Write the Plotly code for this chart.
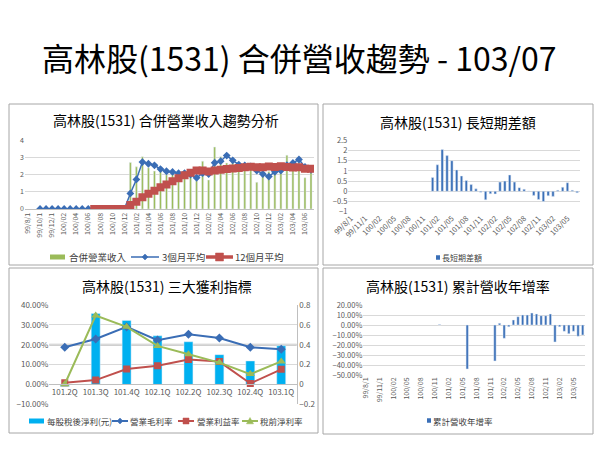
import plotly.graph_objects as go

W, H = 600, 450
def fx(px): return px / W
def fy(py): return 1 - py / H

FONT = "Noto Sans CJK TC, Noto Sans CJK SC, sans-serif"
TICK = "#595959"
GRID = "#D9D9D9"

# ---------------- data ----------------
months = ['99/08', '99/09', '99/10', '99/11', '99/12',
          '100/01', '100/02', '100/03', '100/04', '100/05', '100/06',
          '100/07', '100/08', '100/09', '100/10', '100/11', '100/12',
          '101/01', '101/02', '101/03', '101/04', '101/05', '101/06',
          '101/07', '101/08', '101/09', '101/10', '101/11', '101/12',
          '102/01', '102/02', '102/03', '102/04', '102/05', '102/06',
          '102/07', '102/08', '102/09', '102/10', '102/11', '102/12',
          '103/01', '103/02', '103/03', '103/04', '103/05', '103/06', '103/07']

p1_tickvals = months[0::2]
p1_ticktext = ['99/8/1', '99/10/1', '99/12/1', '100/02', '100/04', '100/06',
               '100/08', '100/10', '100/12', '101/02', '101/04', '101/06',
               '101/08', '101/10', '101/12', '102/02', '102/04', '102/06',
               '102/08', '102/10', '102/12', '103/02', '103/04', '103/06']
p2_tickvals = months[0::3]
p2_ticktext = ['99/8/1', '99/11/1', '100/02', '100/05', '100/08', '100/11',
               '101/02', '101/05', '101/08', '101/11', '102/02', '102/05',
               '102/08', '102/11', '103/02', '103/05']

# panel 1: monthly revenue (101/01 .. 103/07)
rev_months = months[17:]
revenue = [2.73, 2.47, 3.06, 2.41, 2.22, 2.40, 2.00, 2.10, 2.20, 2.00, 1.85, 1.65,
           2.80, 1.70, 3.63, 3.06, 2.70, 2.80, 2.30, 2.55, 2.65, 1.56, 1.94, 2.20,
           2.40, 2.15, 3.15, 2.80, 2.75, 1.83, 2.30]
# 3-month average (99/10 .. 103/07)
avg3_months = months[2:]
avg3 = [0, 0, 0, 0, 0, 0, 0, 0, 0, 0, 0, 0, 0, 0, 0,
        0.91, 1.73, 2.75, 2.65, 2.56, 2.34, 2.21, 2.17, 2.10, 2.10, 2.02, 1.83,
        2.10, 2.05, 2.71, 2.80, 3.13, 2.85, 2.60, 2.55, 2.50, 2.25, 2.05, 1.90,
        2.18, 2.25, 2.57, 2.70, 2.90, 2.46, 2.29]
# 12-month average (100/07 .. 103/07)
avg12_months = months[11:]
avg12 = [0, 0, 0, 0, 0, 0,
         0.23, 0.43, 0.69, 0.89, 1.07, 1.27, 1.44, 1.62, 1.80, 1.97, 2.12, 2.26,
         2.26, 2.20, 2.25, 2.30, 2.34, 2.37, 2.40, 2.44, 2.47, 2.44, 2.45, 2.49,
         2.46, 2.50, 2.46, 2.43, 2.44, 2.36, 2.36]

# panel 2: long/short difference (101/01 .. 103/07)
diff_months = months[17:]
diff = [0.68, 1.30, 2.05, 1.75, 1.50, 1.05, 0.75, 0.53, 0.33, 0.12, -0.05, -0.42,
        -0.12, -0.13, 0.45, 0.50, 0.80, 0.45, 0.18, 0.10, 0.02, -0.20, -0.40, -0.50,
        -0.22, -0.25, 0.05, 0.20, 0.42, 0.05, -0.07]

# panel 3: profitability
quarters = ['101.2Q', '101.3Q', '101.4Q', '102.1Q', '102.2Q', '102.3Q', '102.4Q', '103.1Q']
eps = [-0.02, 0.715, 0.645, 0.49, 0.43, 0.30, 0.237, 0.39]
gross = [0.187, 0.229, 0.290, 0.223, 0.253, 0.234, 0.187, 0.177]
oper = [0.008, 0.022, 0.078, 0.094, 0.125, 0.115, 0.005, 0.076]
pretax = [0.001, 0.347, 0.290, 0.194, 0.152, 0.110, 0.052, 0.116]

# panel 4: cumulative revenue YoY growth
growth_months = ['100/12', '101/06', '101/12',
                 '102/01', '102/02', '102/03', '102/04', '102/05', '102/06',
                 '102/07', '102/08', '102/09', '102/10', '102/11', '102/12',
                 '103/01', '103/02', '103/03', '103/04', '103/05', '103/06', '103/07']
growth = [0.004, -0.44, -0.36,
          0.017, -0.133, -0.017, 0.05, 0.083, 0.10,
          0.10, 0.12, 0.11, 0.093, 0.093, 0.11,
          -0.17, -0.017, -0.063, -0.087, -0.063, -0.113, -0.10]

# ---------------- figure ----------------
BLUE = "#3A6DB5"
RED = "#C0504D"
GREEN = "#9BBB59"
BARBLUE = "#3A6FB7"
CYAN = "#00B0F0"

fig = go.Figure()

# panel 1
fig.add_trace(go.Bar(x=rev_months, y=revenue, name='合併營業收入', marker_color=GREEN,
                     width=0.33, xaxis='x', yaxis='y'))
fig.add_trace(go.Scatter(x=avg3_months, y=avg3, name='3個月平均', mode='lines+markers',
                         line=dict(color=BLUE, width=1.5),
                         marker=dict(symbol='diamond', size=6, color=BLUE),
                         xaxis='x', yaxis='y'))
fig.add_trace(go.Scatter(x=avg12_months, y=avg12, name='12個月平均', mode='lines+markers',
                         line=dict(color=RED, width=3.5),
                         marker=dict(symbol='square', size=8, color=RED),
                         xaxis='x', yaxis='y'))

# panel 2
fig.add_trace(go.Bar(x=diff_months, y=diff, name='長短期差額', marker_color=BARBLUE,
                     width=0.5, xaxis='x2', yaxis='y2'))

# panel 3
fig.add_trace(go.Bar(x=quarters, y=eps, name='每股稅後淨利(元)', marker_color=CYAN,
                     width=0.29, xaxis='x3', yaxis='y3'))
fig.add_trace(go.Scatter(x=quarters, y=gross, name='營業毛利率', mode='lines+markers',
                         line=dict(color=BLUE, width=2),
                         marker=dict(symbol='diamond', size=7, color=BLUE),
                         xaxis='x3', yaxis='y4'))
fig.add_trace(go.Scatter(x=quarters, y=oper, name='營業利益率', mode='lines+markers',
                         line=dict(color=RED, width=2),
                         marker=dict(symbol='square', size=7, color=RED),
                         xaxis='x3', yaxis='y4'))
fig.add_trace(go.Scatter(x=quarters, y=pretax, name='稅前淨利率', mode='lines+markers',
                         line=dict(color=GREEN, width=2),
                         marker=dict(symbol='triangle-up', size=8, color=GREEN),
                         xaxis='x3', yaxis='y4'))

# panel 4
fig.add_trace(go.Bar(x=growth_months, y=growth, name='累計營收年增率', marker_color=BARBLUE,
                     width=0.5, xaxis='x4', yaxis='y5'))

tickfont = dict(family=FONT, size=7, color=TICK)

def cat_axis(**kw):
    d = dict(type='category', categoryorder='array', showgrid=False, zeroline=False,
             ticks='', tickfont=tickfont, fixedrange=True)
    d.update(kw)
    return d

def val_axis(**kw):
    d = dict(showgrid=True, gridcolor=GRID, gridwidth=1, zeroline=False, ticks='',
             tickfont=tickfont, showline=False, fixedrange=True)
    d.update(kw)
    return d

fig.update_layout(
    width=W, height=H, autosize=False,
    margin=dict(l=0, r=0, t=0, b=0, pad=0, autoexpand=False),
    paper_bgcolor='white', plot_bgcolor='rgba(0,0,0,0)',
    font=dict(family=FONT),
    hovermode=False,
    showlegend=False,
    barmode='group',
    xaxis=cat_axis(domain=[fx(25), fx(314)], anchor='y', categoryarray=months,
                   range=[-0.5, 47.5], tickvals=p1_tickvals, ticktext=p1_ticktext,
                   tickangle=-90, showline=True, linecolor='#BFBFBF'),
    yaxis=val_axis(domain=[fy(209), fy(140.7)], anchor='x', range=[0, 4], dtick=1),
    xaxis2=cat_axis(domain=[fx(348.3), fx(579.5)], anchor='y2', categoryarray=months,
                    range=[-0.5, 47.5], tickvals=p2_tickvals, ticktext=p2_ticktext,
                    tickangle=-45, tickfont=dict(family=FONT, size=7.5, color=TICK)),
    yaxis2=val_axis(domain=[fy(211.7), fy(140.3)], anchor='x2', range=[-1, 2.5], dtick=0.5,
                    tickfont=dict(family=FONT, size=7.5, color=TICK)),
    xaxis3=cat_axis(domain=[fx(49.3), fx(296.7)], anchor='free', position=fy(384.3),
                    categoryarray=quarters, range=[-0.5, 7.5], showline=True,
                    linecolor='#BFBFBF', tickfont=dict(family=FONT, size=8, color=TICK)),
    yaxis3=val_axis(domain=[fy(404.3), fy(305)], anchor='x3', side='right',
                    range=[-0.2, 0.8], dtick=0.2, showline=True, linecolor='#BFBFBF',
                    tickfont=dict(family=FONT, size=8, color=TICK)),
    yaxis4=dict(overlaying='y3', anchor='x3', side='left', range=[-0.1, 0.4], dtick=0.1,
                tickformat='.2%', showgrid=False, zeroline=False, ticks='', fixedrange=True,
                tickfont=dict(family=FONT, size=8, color=TICK)),
    xaxis4=cat_axis(domain=[fx(363.3), fx(585)], anchor='y5', categoryarray=months,
                    range=[-0.5, 47.5], tickvals=p2_tickvals, ticktext=p2_ticktext,
                    tickangle=-90),
    yaxis5=val_axis(domain=[fy(375), fy(305)], anchor='x4', range=[-0.5, 0.2], dtick=0.1,
                    tickformat='.2%', tickfont=dict(family=FONT, size=7.5, color=TICK)),
)

# panel frames
border = dict(color='#A6A6A6', width=1)
for (x0, y0, x1, y1) in [(9, 104, 318, 265), (323, 104, 593, 265),
                         (9, 268, 318, 433), (323, 268, 593, 434)]:
    fig.add_shape(type='rect', xref='paper', yref='paper', x0=fx(x0), x1=fx(x1),
                  y0=fy(y1), y1=fy(y0), line=border, fillcolor='rgba(0,0,0,0)', layer='below')

# darker gridline at 20% in panel 3
fig.add_shape(type='line', xref='x3 domain', yref='y4', x0=0, x1=1, y0=0.2, y1=0.2,
              line=dict(color='#BFBFBF', width=2), layer='below')

# ---------- compact legends (symbols + text), positioned like the reference ----------
def swatch(x0, x1, y, h, color):
    fig.add_shape(type='rect', xref='paper', yref='paper', x0=fx(x0), x1=fx(x1),
                  y0=fy(y + h / 2), y1=fy(y - h / 2), line=dict(width=0), fillcolor=color)

def line_sym(x0, x1, y, color, width, marker, msize):
    fig.add_shape(type='line', xref='paper', yref='paper', x0=fx(x0), x1=fx(x1),
                  y0=fy(y), y1=fy(y), line=dict(color=color, width=width))
    cx, r = (x0 + x1) / 2, msize / 2
    if marker == 'diamond':
        pts = [(cx, y - r), (cx + r, y), (cx, y + r), (cx - r, y)]
    elif marker == 'square':
        pts = [(cx - r, y - r), (cx + r, y - r), (cx + r, y + r), (cx - r, y + r)]
    else:
        pts = [(cx, y - r), (cx + r, y + r * 0.8), (cx - r, y + r * 0.8)]
    path = 'M ' + ' L '.join(f'{fx(px):.5f},{fy(py):.5f}' for px, py in pts) + ' Z'
    fig.add_shape(type='path', xref='paper', yref='paper', path=path,
                  fillcolor=color, line=dict(color=color, width=0.5))

def label(x, y, txt, size):
    fig.add_annotation(text=txt, xref='paper', yref='paper', x=fx(x), y=fy(y),
                       xanchor='left', yanchor='middle', showarrow=False,
                       font=dict(family=FONT, size=size, color='#404040'))

# panel 1 legend
swatch(50, 65, 257, 5, GREEN)
label(67, 257, '合併營業收入', 9.5)
line_sym(131, 159, 257, BLUE, 1.5, 'diamond', 6)
label(160, 257, '3個月平均', 9.5)
line_sym(206, 233, 257, RED, 3.5, 'square', 8)
label(233, 257, '12個月平均', 9.5)
# panel 2 legend
swatch(436, 440, 257.5, 4.5, BARBLUE)
label(440, 257.5, '長短期差額', 8)
# panel 3 legend
swatch(29, 44, 421, 5, CYAN)
label(45, 421, '每股稅後淨利(元)', 8.5)
line_sym(112, 128, 421, BLUE, 2, 'diamond', 6)
label(128, 421, '營業毛利率', 8.5)
line_sym(178, 194, 421, RED, 2, 'square', 6)
label(195, 421, '營業利益率', 8.5)
line_sym(242, 258, 421, GREEN, 2, 'triangle', 7)
label(258, 421, '稅前淨利率', 8.5)
# panel 4 legend
swatch(427, 431, 420.5, 4.5, BARBLUE)
label(431, 420.5, '累計營收年增率', 8.5)

# titles
fig.add_annotation(text='高林股(1531) 合併營收趨勢 - 103/07', xref='paper', yref='paper',
                   x=fx(299), y=fy(57), xanchor='center', yanchor='middle', showarrow=False,
                   font=dict(family=FONT, size=32, color='#000000'))
for txt, x, y in [('高林股(1531) 合併營業收入趨勢分析', 166, 120),
                  ('高林股(1531) 長短期差額', 458, 122),
                  ('高林股(1531) 三大獲利指標', 167, 286),
                  ('高林股(1531) 累計營收年增率', 458, 286)]:
    fig.add_annotation(text=txt, xref='paper', yref='paper', x=fx(x), y=fy(y),
                       xanchor='center', yanchor='middle',
                       showarrow=False, font=dict(family=FONT, size=14, color='#000000'))

fig.write_html("out.html", config={'displayModeBar': False},
               post_script="document.body.style.margin='0px';document.body.style.overflow='hidden';")
